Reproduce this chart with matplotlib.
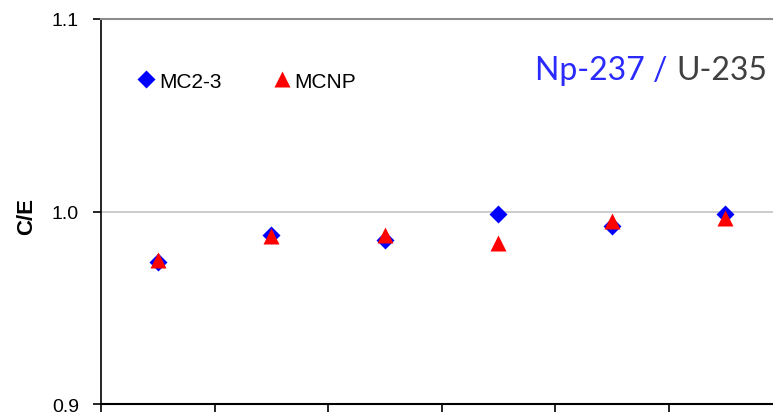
import numpy as np
import matplotlib.pyplot as plt

# C/E values per case (6 cases, no labels on the x axis)
cases = [1, 2, 3, 4, 5, 6]
mc23 = [0.974, 0.988, 0.985, 0.9987, 0.9926, 0.9987]
mcnp = [0.975, 0.9875, 0.988, 0.9836, 0.9952, 0.9966]

plt.rcParams['font.family'] = ['Liberation Sans', 'DejaVu Sans']

fig = plt.figure(figsize=(7.73, 4.14), dpi=100)
# right edge of the axes sits past the figure edge, like the cropped original
ax = fig.add_axes([0.1307, 0.0217, 0.881, 0.930])

x = np.array(cases) - 0.5
ax.plot(x, mc23, 'D', color='#0000ff', ms=9.5, mec='none', label='MC2-3')
ax.plot(x, mcnp, '^', color='#ff0000', ms=11, mec='none', label='MCNP')

ax.set_xlim(0, 6)
ax.set_ylim(0.9, 1.1)
ax.set_xticks(range(7))
ax.set_xticklabels([])
ax.set_yticks([0.9, 1.0, 1.1])
ax.set_yticklabels(['0.9', '1.0', '1.1'], fontsize=14)
ax.tick_params(axis='both', direction='out', length=6, width=1.2, color='black')
ax.tick_params(axis='y', pad=10)
ax.axhline(1.0, color='#c4c4c4', lw=1.2, zorder=0)

ax.spines['top'].set_color('#8c8c8c')
ax.spines['top'].set_linewidth(1.5)
ax.spines['right'].set_visible(False)
ax.spines['left'].set_linewidth(1.2)
ax.spines['bottom'].set_linewidth(1.5)

ax.text(-0.109, 0.49, 'C/E', transform=ax.transAxes, rotation=90, fontsize=16,
        fontweight='bold', ha='center', va='center')

ax.legend(loc='upper left', bbox_to_anchor=(0.03, 0.912), ncol=2, frameon=False,
          fontsize=15, handlelength=0.6, handletextpad=0.3, columnspacing=2.6,
          numpoints=1)

ax.text(0.637, 0.844, 'Np-237 /', transform=ax.transAxes, fontsize=23,
        family='Lato', color='#2a2aff', ha='left', va='baseline')
ax.text(0.978, 0.844, 'U-235', transform=ax.transAxes, fontsize=23,
        family='Lato', color='#404040', ha='right', va='baseline')

plt.savefig('out.png', dpi=100)
